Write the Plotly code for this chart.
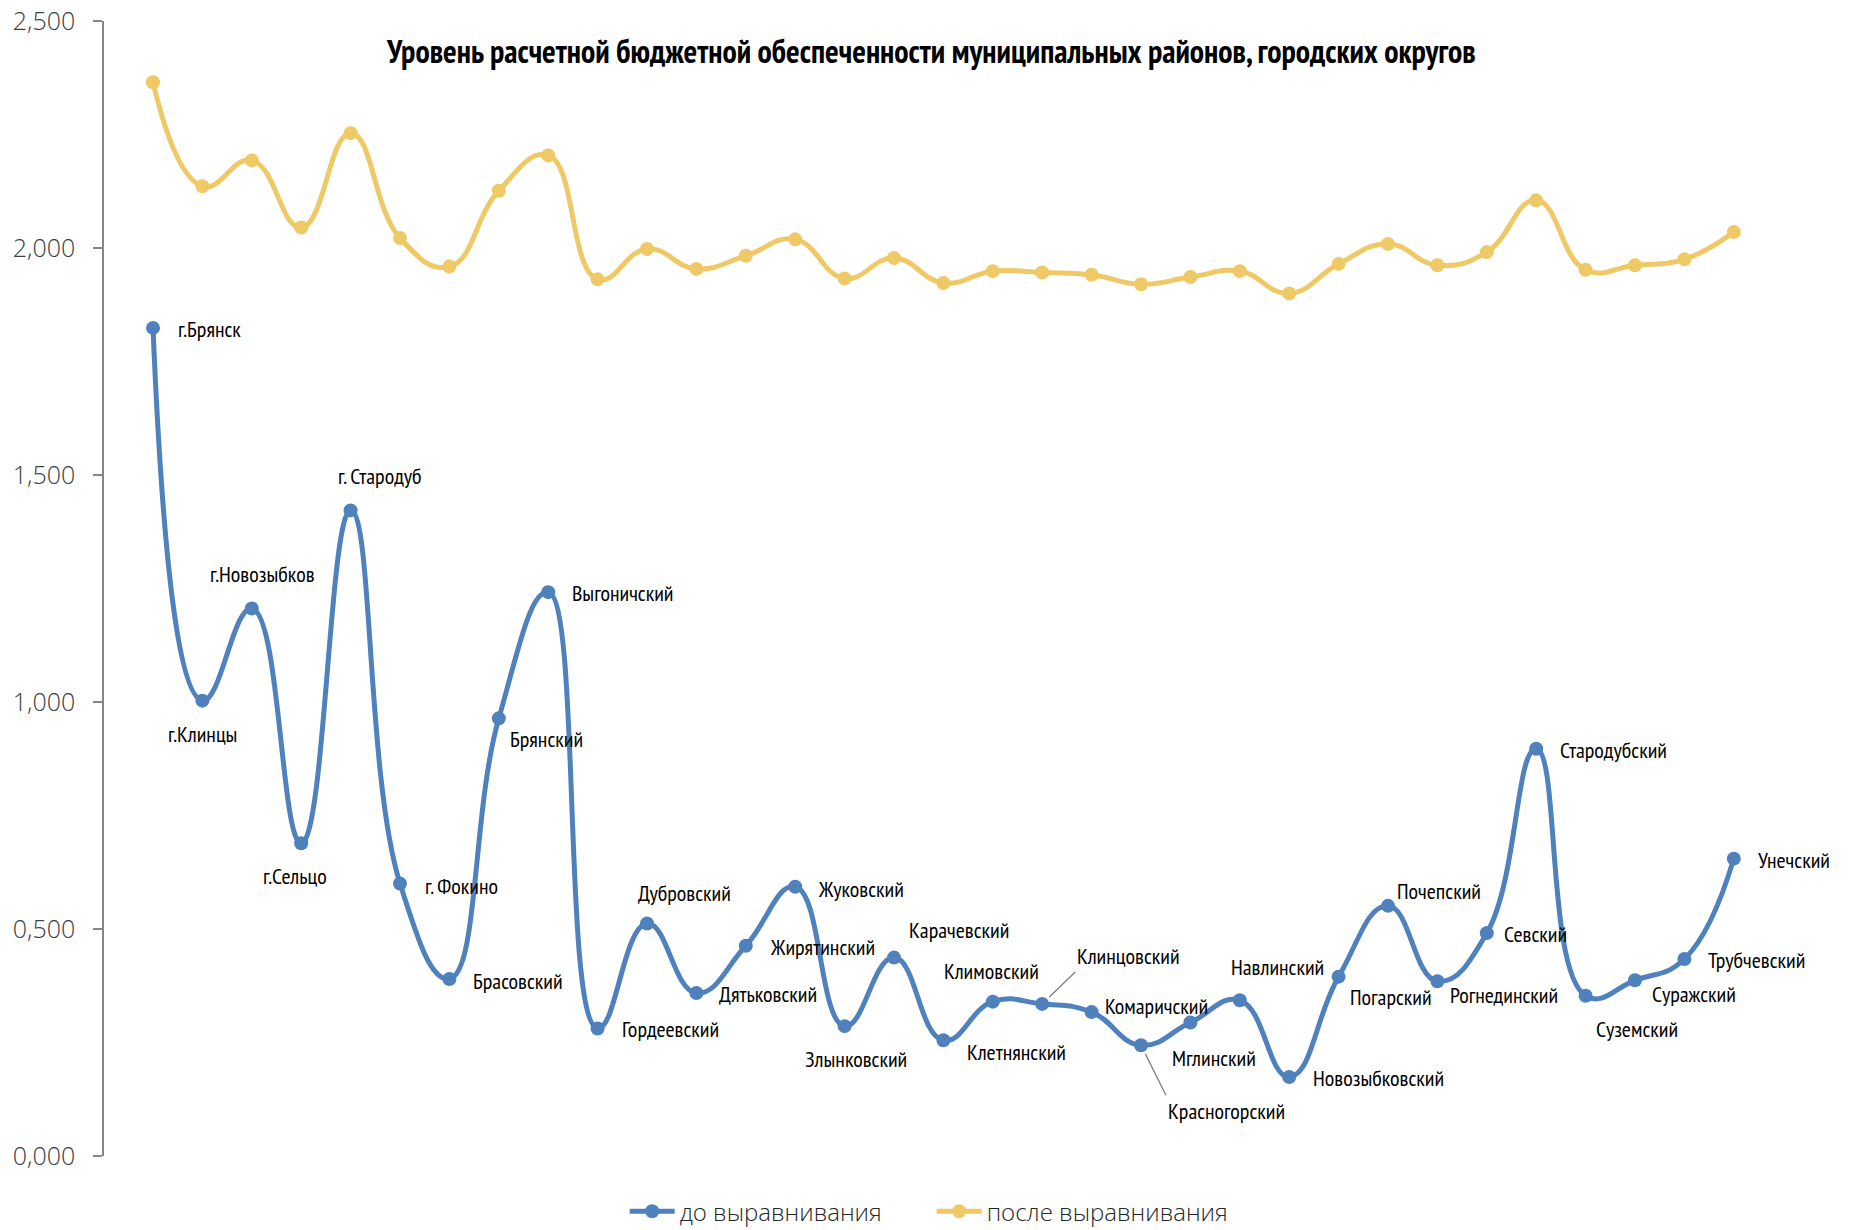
import plotly.graph_objects as go

categories = ["г.Брянск", "г.Клинцы", "г.Новозыбков", "г.Сельцо", "г. Стародуб", "г. Фокино",
              "Брасовский", "Брянский", "Выгоничский", "Гордеевский", "Дубровский", "Дятьковский",
              "Жирятинский", "Жуковский", "Злынковский", "Карачевский", "Клетнянский", "Климовский",
              "Клинцовский", "Комаричский", "Красногорский", "Мглинский", "Навлинский",
              "Новозыбковский", "Погарский", "Почепский", "Рогнединский", "Севский", "Стародубский",
              "Суземский", "Суражский", "Трубчевский", "Унечский"]

before = [1.824, 1.003, 1.206, 0.689, 1.422, 0.600, 0.390, 0.964, 1.242, 0.281, 0.512, 0.359,
          0.463, 0.593, 0.286, 0.437, 0.255, 0.340, 0.335, 0.317, 0.244, 0.294, 0.343,
          0.174, 0.395, 0.551, 0.385, 0.491, 0.897, 0.353, 0.387, 0.434, 0.655]

after = [2.365, 2.136, 2.193, 2.045, 2.253, 2.022, 1.959, 2.126, 2.204, 1.931, 1.998, 1.954,
         1.983, 2.019, 1.933, 1.978, 1.923, 1.949, 1.946, 1.941, 1.920, 1.936, 1.949,
         1.900, 1.965, 2.009, 1.962, 1.991, 2.105, 1.952, 1.962, 1.975, 2.035]

series_names = ["до выравнивания", "после выравнивания"]
title_text = "Уровень расчетной бюджетной обеспеченности муниципальных районов, городских округов"

# label placement (anchor, dx px, dy px down); "arrow" entries use leader lines
label_pos = [("left", 23, 1), ("center", 0, 33), ("center", 11, -34), ("center", -6, 33),
             ("center", 29, -34), ("left", 23, 2), ("left", 22, 2), ("left", 9, 21),
             ("left", 22, 1), ("left", 22, 1), ("center", 37, -31), ("left", 21, 1),
             ("left", 22, 1), ("left", 21, 2), ("center", 11, 33), ("center", 65, -28),
             ("left", 22, 12), ("center", -1, -31), ("arrow_up", 33, -32), ("left", 11, -6),
             ("arrow_down", 25, 50), ("center", 24, 35), ("center", 38, -33), ("left", 22, 1),
             ("center", 52, 20), ("center", 51, -15), ("center", 67, 14), ("left", 15, 1),
             ("left", 22, 1), ("center", 51, 33), ("center", 59, 14), ("left", 22, 1),
             ("left", 22, 1)]

BLUE = "#4F81BD"
YELLOW = "#EEC966"
NARROW = "PT Sans Narrow, Fira Sans Condensed, Roboto Condensed, Open Sans Condensed, Liberation Sans Narrow, sans-serif"
LIGHT = "Open Sans, Noto Sans, sans-serif"
LABEL_FONT = dict(family=NARROW, size=22, color="#000000")

x = list(range(len(categories)))

fig = go.Figure()
fig.add_trace(go.Scatter(x=x, y=before, name=series_names[0], mode="lines+markers",
                         line=dict(color=BLUE, width=5, shape="spline", smoothing=1.3),
                         marker=dict(color=BLUE, size=14)))
fig.add_trace(go.Scatter(x=x, y=after, name=series_names[1], mode="lines+markers",
                         line=dict(color=YELLOW, width=5, shape="spline", smoothing=1.3),
                         marker=dict(color=YELLOW, size=14)))

annotations = []
for i, (name, val, pos) in enumerate(zip(categories, before, label_pos)):
    kind, dx, dy = pos
    if kind.startswith("arrow"):
        annotations.append(dict(x=i, y=val, xref="x", yref="y", text=name, showarrow=True,
                                arrowhead=0, arrowwidth=1.3, arrowcolor="#808080",
                                ax=dx, ay=dy, xanchor="left",
                                yanchor="bottom" if kind == "arrow_up" else "top",
                                standoff=10, font=LABEL_FONT))
    else:
        annotations.append(dict(x=i, y=val, xref="x", yref="y", text=name, showarrow=False,
                                xanchor=kind, yanchor="middle", xshift=dx, yshift=-dy,
                                font=LABEL_FONT))

annotations.append(dict(x=0.4876, y=0.9736, xref="paper", yref="paper", text="<b>" + title_text + "</b>",
                        showarrow=False, xanchor="center", yanchor="middle",
                        font=dict(family=NARROW, size=32, color="#000000")))

fig.update_layout(
    width=1841, height=1222,
    margin=dict(l=96, r=49, t=13, b=74, autoexpand=False),
    plot_bgcolor="white", paper_bgcolor="white",
    separators=",.",
    showlegend=True,
    legend=dict(orientation="h", x=0.307, y=-0.049, xanchor="left", yanchor="middle",
                font=dict(family=LIGHT, size=24, color="#262626", weight=300),
                itemwidth=45, entrywidth=247, entrywidthmode="pixels"),
    annotations=annotations,
)
fig.update_xaxes(range=[-0.992, 33.34], showgrid=False, zeroline=False, showline=False,
                 showticklabels=False, ticks="")
fig.update_yaxes(range=[0, 2.5], tickvals=[0, 0.5, 1.0, 1.5, 2.0, 2.5], tickformat=".3f",
                 showgrid=False, zeroline=False, showline=True, linecolor="#868686", linewidth=1.5,
                 ticks="outside", ticklen=9, tickcolor="#868686", tickwidth=1.5, automargin=False,
                 ticklabelstandoff=13, ticklabeloverflow="allow",
                 tickfont=dict(family=LIGHT, size=25, color="#404040", weight=300))

fig.write_html("out.html")
